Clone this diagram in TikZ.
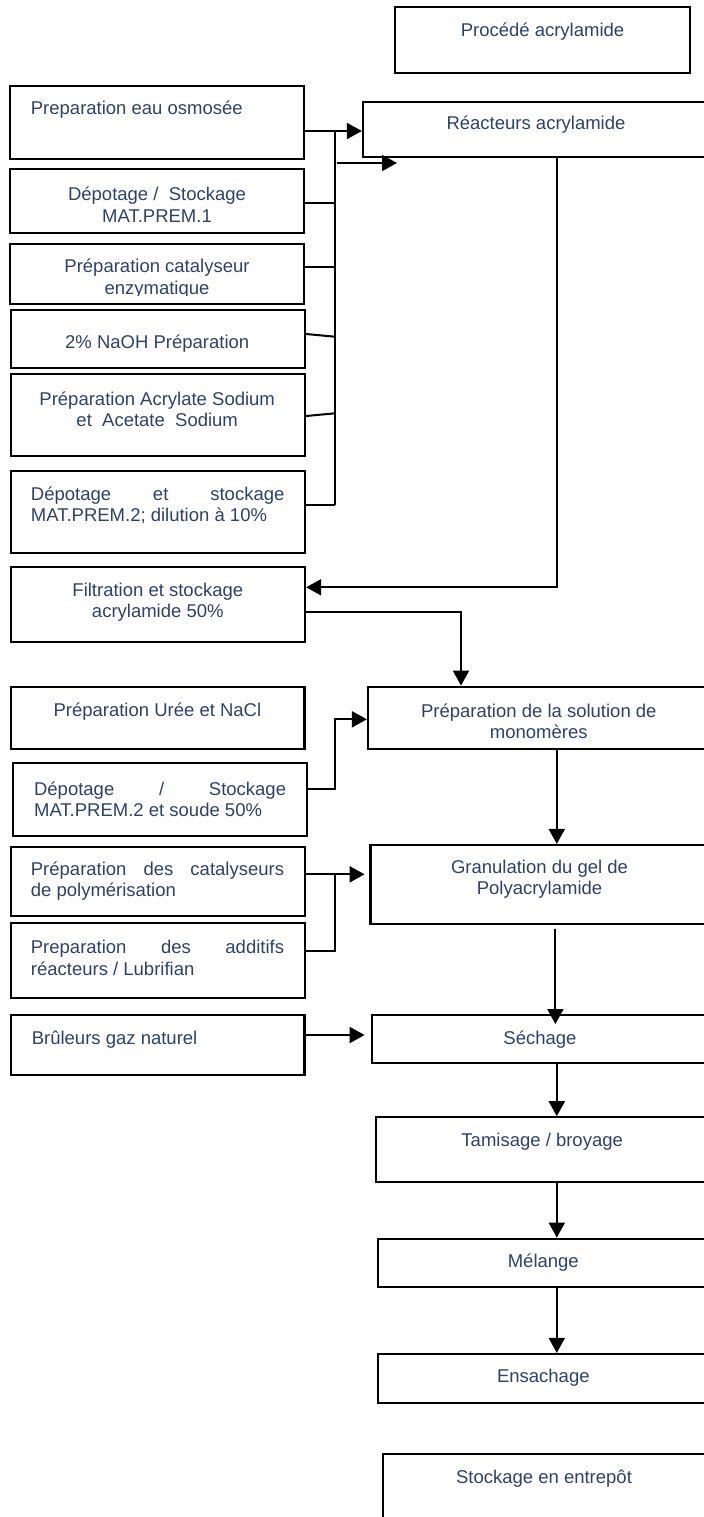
\documentclass[tikz,border=0pt]{standalone}
\usepackage{fontspec}
\setmainfont{Liberation Sans}
\usetikzlibrary{arrows.meta,fit}
\definecolor{tcol}{RGB}{44,66,108}
\begin{document}
\begin{tikzpicture}[x=0.5pt,y=-0.5pt,
  box/.style={draw=black,line width=1.1pt,inner sep=0pt,rectangle},
  txt/.style={inner sep=0pt,text=tcol,yshift=-1pt,font=\fontsize{9.25}{10.7}\selectfont},
  ln/.style={draw=black,line width=1pt},
  arr/.style={ln,-{Triangle[length=7.5pt,width=8pt]}}]
\useasboundingbox (0,0) rectangle (704,1517);
\clip (0,0) rectangle (704,1517);
\fill[white] (0,0) rectangle (704,1517);

% ---------- boxes ----------
\node[box,fit={(395,7) (690,73)}] (proc) {};
\node[box,fit={(10,86) (304,159)}] (osm) {};
\node[box,fit={(363,102) (709,157)}] (reac) {};
\node[box,fit={(10,169) (304,233)}] (mp1) {};
\node[box,fit={(10,244) (304,304)}] (cat) {};
\node[box,fit={(10.8,310) (305,368)}] (naoh) {};
\node[box,fit={(10.8,374) (305,456)}] (acr) {};
\node[box,fit={(10.8,470.7) (305,552.7)}] (mp2) {};
\node[box,fit={(10.8,566.7) (305,641.7)}] (filt) {};
\node[box,fit={(10.8,686.7) (304.5,749.3)}] (uree) {};
\node[box,fit={(368,686.7) (709,749)}] (sol) {};
\node[box,fit={(12.6,763.3) (307,836)}] (mp2s) {};
\node[box,fit={(10.8,847.3) (305,916)}] (pcat) {};
\node[box,fit={(370.4,845) (709,924.3)}] (gran) {};
\node[box,fit={(10.8,923.3) (305,997.7)}] (addi) {};
\node[box,fit={(10.8,1015) (304.5,1075)}] (brul) {};
\node[box,fit={(371.8,1015) (709,1063.3)}] (sech) {};
\node[box,fit={(375.8,1117.3) (709,1182.3)}] (tami) {};
\node[box,fit={(377.7,1238.7) (709,1287.3)}] (mel) {};
\node[box,fit={(377.7,1354) (709,1402.7)}] (ens) {};
\node[box,fit={(383,1454.3) (706,1530)}] (stock) {};

% ---------- texts ----------
\node[txt] (proc-t) at (542.5,30) {Procédé acrylamide};
\node[txt,anchor=west] (osm-t) at (30.5,108) {Preparation eau osmosée};
\node[txt] (reac-t) at (536,123) {Réacteurs acrylamide};
\node[txt,align=center] (mp1-t) at (157,202.5) {Dépotage /\ \ Stockage\\MAT.PREM.1};
\begin{scope}
\clip (10,244) rectangle (304,295);
\node[txt,align=center] (cat-t) at (157,276.5) {Préparation catalyseur\\enzymatique};
\end{scope}
\node[txt] (naoh-t) at (157.2,341.7) {2\% NaOH Préparation};
\node[txt,align=center] (acr-t) at (157.2,407) {Préparation Acrylate Sodium\\et\ \ Acetate\ \ Sodium};
\node[txt,align=left,anchor=west] (mp2-t) at (30.5,503.5) {\makebox[126.75pt][s]{Dépotage et stockage}\\MAT.PREM.2; dilution à 10\%};
\node[txt,align=center] (filt-t) at (157.8,600) {Filtration et stockage\\acrylamide 50\%};
\node[txt] (uree-t) at (157.4,709.3) {Préparation Urée et NaCl};
\node[txt,align=center] (sol-t) at (538.8,719.5) {Préparation de la solution de\\monomères};
\node[txt,align=left,anchor=west] (mp2s-t) at (33.7,797) {\makebox[126pt][s]{Dépotage / Stockage}\\MAT.PREM.2 et soude 50\%};
\node[txt,align=left,anchor=west] (pcat-t) at (30.5,879.3) {\makebox[126.6pt][s]{Préparation des catalyseurs}\\de polymérisation};
\node[txt,align=center] (gran-t) at (539.5,877) {Granulation du gel de\\Polyacrylamide};
\node[txt,align=left,anchor=west] (addi-t) at (30.5,955.8) {\makebox[126.6pt][s]{Preparation des additifs}\\réacteurs / Lubrifian};
\node[txt,anchor=west] (brul-t) at (31.4,1037.3) {Brûleurs gaz naturel};
\node[txt] (sech-t) at (540,1037.3) {Séchage};
\node[txt] (tami-t) at (542.2,1140) {Tamisage / broyage};
\node[txt] (mel-t) at (543.3,1261) {Mélange};
\node[txt] (ens-t) at (543.3,1376) {Ensachage};
\node[txt] (stock-t) at (544,1476.7) {Stockage en entrepôt};

% ---------- connectors ----------
\coordinate (b1) at (335,131);
\coordinate (b2) at (335,505);
\draw[arr] (osm.east |- b1) -- (reac.west |- b1);
\draw[ln] (b1) -- (b2);
\coordinate (r1) at (337,163);
\coordinate (r2) at (397,163);
\draw[arr] (r1) -- (r2);
\coordinate (b3) at (335,202.7);
\draw[ln] (mp1.east |- b3) -- (b3);
\coordinate (b4) at (335,267.3);
\draw[ln] (cat.east |- b4) -- (b4);
\coordinate (b5) at (335,336.7);
\coordinate (s5) at (0,334);
\draw[ln] (naoh.east |- s5) -- (b5);
\coordinate (b6) at (335,413.3);
\coordinate (s6) at (0,416);
\draw[ln] (acr.east |- s6) -- (b6);
\draw[ln] (mp2.east |- b2) -- (b2);

\coordinate (k1) at (557,587.3);
\draw[arr] (reac.south -| k1) -- (k1) -- (filt.east |- k1);
\coordinate (k2) at (461,611.7);
\draw[arr] (filt.east |- k2) -- (k2) -- (sol.north -| k2);
\coordinate (k3) at (335.4,789.3);
\coordinate (k4) at (335.4,719.3);
\draw[arr] (mp2s.east |- k3) -- (k3) -- (k4) -- (sol.west |- k4);
\coordinate (k5) at (556.8,0);
\draw[arr] (sol.south -| k5) -- (gran.north -| k5);
\coordinate (k6) at (364.6,874.3);
\draw[arr] (pcat.east |- k6) -- (k6);
\coordinate (k7) at (335.4,874.3);
\coordinate (k8) at (335.4,950.7);
\draw[ln] (k7) -- (k8) -- (addi.east |- k8);
\coordinate (k9) at (555.4,929.3);
\coordinate (k10) at (555.4,1024);
\draw[arr] (k9) -- (k10);
\coordinate (k11) at (364.6,1035);
\draw[arr] (brul.east |- k11) -- (k11);
\coordinate (k12) at (556.8,0);
\draw[arr] (sech.south -| k12) -- (tami.north -| k12);
\draw[arr] (tami.south -| k12) -- (mel.north -| k12);
\draw[arr] (mel.south -| k12) -- (ens.north -| k12);
\end{tikzpicture}
\end{document}
